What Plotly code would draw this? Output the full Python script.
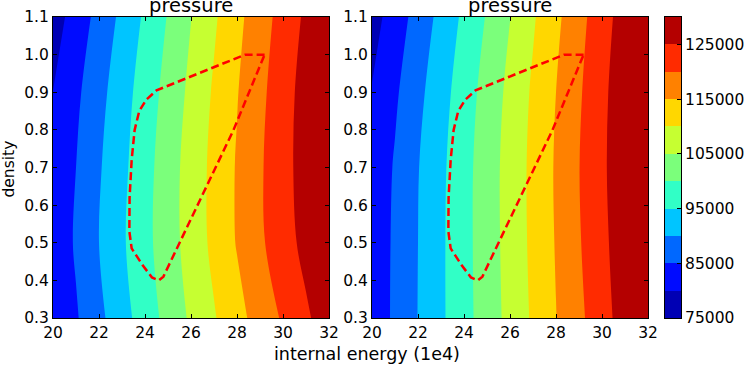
import numpy as np
import plotly.graph_objects as go

W, H = 747, 376

# grid the pressure field was read on: internal energy (1e4) and density
energy = [20, 21, 22, 23, 24, 25, 26, 27, 28, 29, 30, 31, 32]
density = [0.3, 0.5, 0.7, 0.9, 1.1]

# pressure in thousands, one row per density value (left panel)
p_left_k = [
    [80.2, 84.5, 88.8, 93.1, 97.4, 101.6, 105.8, 109.6, 113.4, 117.0, 120.6, 124.2, 127.8],
    [81.2, 85.6, 90.0, 94.3, 98.5, 102.8, 107.0, 111.2, 115.3, 119.2, 122.8, 126.5, 130.1],
    [80.5, 85.0, 89.5, 93.8, 98.2, 102.7, 107.1, 111.3, 115.4, 119.4, 123.3, 127.1, 130.9],
    [80.05, 84.0, 88.4, 92.9, 97.3, 101.7, 106.2, 110.6, 114.75, 118.8, 122.9, 127.0, 131.0],
    [77.7, 82.1, 86.6, 91.2, 95.8, 100.3, 104.9, 109.3, 113.7, 117.8, 121.8, 125.9, 130.0],
]

# pressure in thousands (right panel)
p_right_k = [
    [81.75, 85.9, 90.1, 94.2, 98.3, 102.4, 106.5, 110.7, 114.9, 118.9, 123.1, 127.25, 131.4],
    [81.7, 85.8, 90.0, 94.2, 98.4, 102.6, 106.8, 111.1, 115.3, 119.6, 123.75, 127.9, 132.1],
    [81.2, 85.5, 89.8, 94.0, 98.3, 102.6, 106.9, 111.2, 115.5, 119.9, 124.1, 128.4, 132.7],
    [80.3, 84.25, 88.7, 93.1, 97.5, 101.9, 106.3, 110.7, 115.0, 119.4, 123.8, 128.2, 132.5],
    [78.0, 82.4, 86.9, 91.5, 96.0, 100.4, 104.9, 109.45, 113.9, 118.4, 122.9, 127.3, 131.8],
]

# dashed envelope drawn over both panels
poly_e = [29.2, 28.35, 24.5, 24.05, 23.75, 23.55, 23.42, 23.33, 23.32, 23.42,
          23.9, 24.3, 24.6, 24.8, 27.85, 29.2]
poly_rho = [1.0, 1.0, 0.905, 0.88, 0.85, 0.80, 0.72, 0.62, 0.53, 0.485,
            0.44, 0.408, 0.40, 0.41, 0.80, 1.0]

levels = [75000, 80000, 85000, 90000, 95000, 100000, 105000,
          110000, 115000, 120000, 125000, 130000]
cbar_ticks = [75000, 85000, 95000, 105000, 115000, 125000]
x_ticks = [20, 22, 24, 26, 28, 30, 32]
y_ticks = [0.3, 0.4, 0.5, 0.6, 0.7, 0.8, 0.9, 1.0, 1.1]

# jet colours of the 11 filled bands
band_colors = ["rgb(0,0,180)", "rgb(0,11,255)", "rgb(0,104,255)", "rgb(0,197,255)",
               "rgb(49,255,198)", "rgb(123,255,123)", "rgb(198,255,49)",
               "rgb(255,215,0)", "rgb(255,129,0)", "rgb(255,43,0)", "rgb(180,0,0)"]

n = len(band_colors)
colorscale = [[i / (n - 1), c] for i, c in enumerate(band_colors)]
step = levels[1] - levels[0]


def px_x(p):
    return p / W


def px_y(p):
    return 1 - p / H


FONT = "DejaVu Sans"
TICK_SIZE = 15.5
fig = go.Figure()

for idx, zk in enumerate([p_left_k, p_right_k]):
    ax = "" if idx == 0 else "2"
    fig.add_trace(go.Contour(
        x=energy, y=density, z=np.array(zk) * 1000,
        colorscale=colorscale, showscale=False,
        autocontour=False,
        contours=dict(start=levels[1], end=levels[-2], size=step, coloring="fill"),
        line=dict(width=0, smoothing=1),
        xaxis="x" + ax, yaxis="y" + ax, hoverinfo="skip",
    ))
    fig.add_trace(go.Scatter(
        x=poly_e, y=poly_rho, mode="lines",
        line=dict(color="red", width=2.5, dash="8px,4px"),
        xaxis="x" + ax, yaxis="y" + ax, hoverinfo="skip", showlegend=False,
    ))

# colour bar drawn as its own little heatmap axis
mids = [(levels[i] + levels[i + 1]) / 2 for i in range(n)]
fig.add_trace(go.Heatmap(
    x=[0], y=mids, z=[[i] for i in range(n)],
    colorscale=colorscale, zmin=0, zmax=n - 1, showscale=False,
    xaxis="x3", yaxis="y3", hoverinfo="skip",
))

ydom = [px_y(318), px_y(17)]
tickfont = dict(family=FONT, size=TICK_SIZE, color="black")
frame = dict(showline=True, linecolor="black", linewidth=1, mirror="ticks",
             ticks="inside", ticklen=4, tickcolor="black", tickfont=tickfont,
             showgrid=False, zeroline=False, automargin=False)

fig.update_layout(
    template="none",
    width=W, height=H,
    margin=dict(l=0, r=0, t=0, b=0, pad=0, autoexpand=False),
    paper_bgcolor="white", plot_bgcolor="white",
    showlegend=False,
    font=dict(family=FONT, color="black"),
    xaxis=dict(domain=[px_x(53), px_x(329)], range=[20, 32], tickvals=x_ticks,
               anchor="y", **frame),
    yaxis=dict(domain=ydom, range=[0.3, 1.1], tickvals=y_ticks, tickformat=".1f",
               anchor="x", **frame),
    xaxis2=dict(domain=[px_x(372), px_x(648)], range=[20, 32], tickvals=x_ticks,
                anchor="y2", **frame),
    yaxis2=dict(domain=ydom, range=[0.3, 1.1], tickvals=y_ticks, tickformat=".1f",
                anchor="x2", **frame),
    xaxis3=dict(domain=[px_x(665), px_x(681)], range=[-0.5, 0.5], anchor="y3",
                showline=True, linecolor="black", linewidth=1, mirror=True,
                showticklabels=False, ticks="", showgrid=False, zeroline=False,
                automargin=False),
    yaxis3=dict(domain=ydom, range=[levels[0], levels[-1]], anchor="x3", side="right",
                tickvals=cbar_ticks, tickformat="d", showline=True, linecolor="black",
                linewidth=1, mirror=True, ticks="inside", ticklen=4, tickcolor="black",
                tickfont=tickfont, showgrid=False, zeroline=False, automargin=False),
)

# titles sit against the top edge and are partly cut off, as in the original
for cx in [(53 + 329) / 2, (372 + 648) / 2]:
    fig.add_annotation(text="pressure", x=px_x(cx), y=px_y(5), xref="paper", yref="paper",
                       showarrow=False, font=dict(family=FONT, size=19.5, color="black"),
                       xanchor="center", yanchor="middle")

fig.add_annotation(text="internal energy (1e4)", x=px_x(366.5), y=px_y(354),
                   xref="paper", yref="paper", showarrow=False,
                   font=dict(family=FONT, size=17.5, color="black"),
                   xanchor="center", yanchor="middle")
fig.add_annotation(text="density", x=px_x(8.5), y=px_y(169), textangle=-90,
                   xref="paper", yref="paper", showarrow=False,
                   font=dict(family=FONT, size=TICK_SIZE, color="black"),
                   xanchor="center", yanchor="middle")

# drop the page's default body margin so the figure sits at the window corner
fig.write_html("out.html", config={"displayModeBar": False},
               post_script="document.body.style.margin = '0px';")
